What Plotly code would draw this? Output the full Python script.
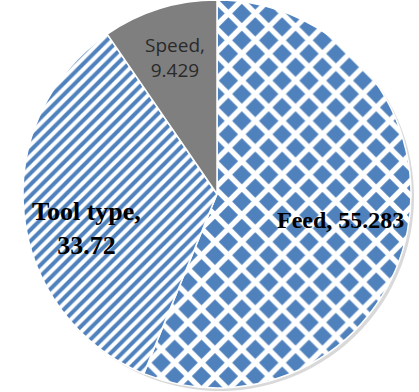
import plotly.graph_objects as go

labels = ["Feed", "Tool type", "Speed"]
values = [55.283, 33.72, 9.429]
value_text = ["55.283", "33.72", "9.429"]

W, H = 419, 392
cx, cy, r = 217, 194, 194  # pixel centre / radius of the pie

def dom(cx, cy, r):
    return dict(x=[(cx - r) / W, (cx + r) / W],
                y=[max(0, (H - cy - r) / H), min(1, (H - cy + r) / H)])

BLUE = "#4f81bd"

fig = go.Figure()

# soft shadow behind the pie
fig.add_trace(go.Pie(
    labels=labels, values=values, sort=False, direction="clockwise",
    textinfo="none", hoverinfo="skip", showlegend=False,
    marker=dict(colors=["rgba(0,0,0,0.15)"] * 3, line=dict(width=0)),
    domain=dom(cx + 3, cy + 3, r),
))

fig.add_trace(go.Pie(
    labels=labels, values=values, sort=False, direction="clockwise",
    textinfo="none", showlegend=False,
    marker=dict(
        colors=[BLUE, "#ffffff", "#7f7f7f"],
        line=dict(color="white", width=1.5),
        pattern=dict(
            shape=["x", "/", ""],
            fgcolor=["#ffffff", BLUE, "#7f7f7f"],
            bgcolor=[BLUE, "#ffffff", "#7f7f7f"],
            fgopacity=1,
            size=[19, 8, 8],
            solidity=[0.48, 0.5, 0.3],
            fillmode="replace",
        ),
    ),
    domain=dom(cx, cy, r),
))

# slice labels (built from the data)
label_pos = {"Speed": (175, 57), "Tool type": (86, 229), "Feed": (340, 220)}
for lab, vt in zip(labels, value_text):
    x, y = label_pos[lab]
    if lab == "Speed":
        txt = f"{lab},<br>{vt}"
        font = dict(family="Open Sans, Liberation Sans, sans-serif", size=19, color="#2a2a2a")
    elif lab == "Tool type":
        txt = f"<b>{lab},<br>{vt}</b>"
        font = dict(family="Liberation Serif, Times New Roman, serif", size=26, color="black")
    else:
        txt = f"<b>{lab}, {vt}</b>"
        font = dict(family="Liberation Serif, Times New Roman, serif", size=24, color="black")
    fig.add_annotation(x=x / W, y=(H - y) / H, xref="paper", yref="paper",
                       xanchor="center", yanchor="middle",
                       text=txt, showarrow=False, font=font, align="center")

fig.update_layout(width=W, height=H, margin=dict(l=0, r=0, t=0, b=0),
                  paper_bgcolor="white", plot_bgcolor="white")
fig.write_html("out.html")
